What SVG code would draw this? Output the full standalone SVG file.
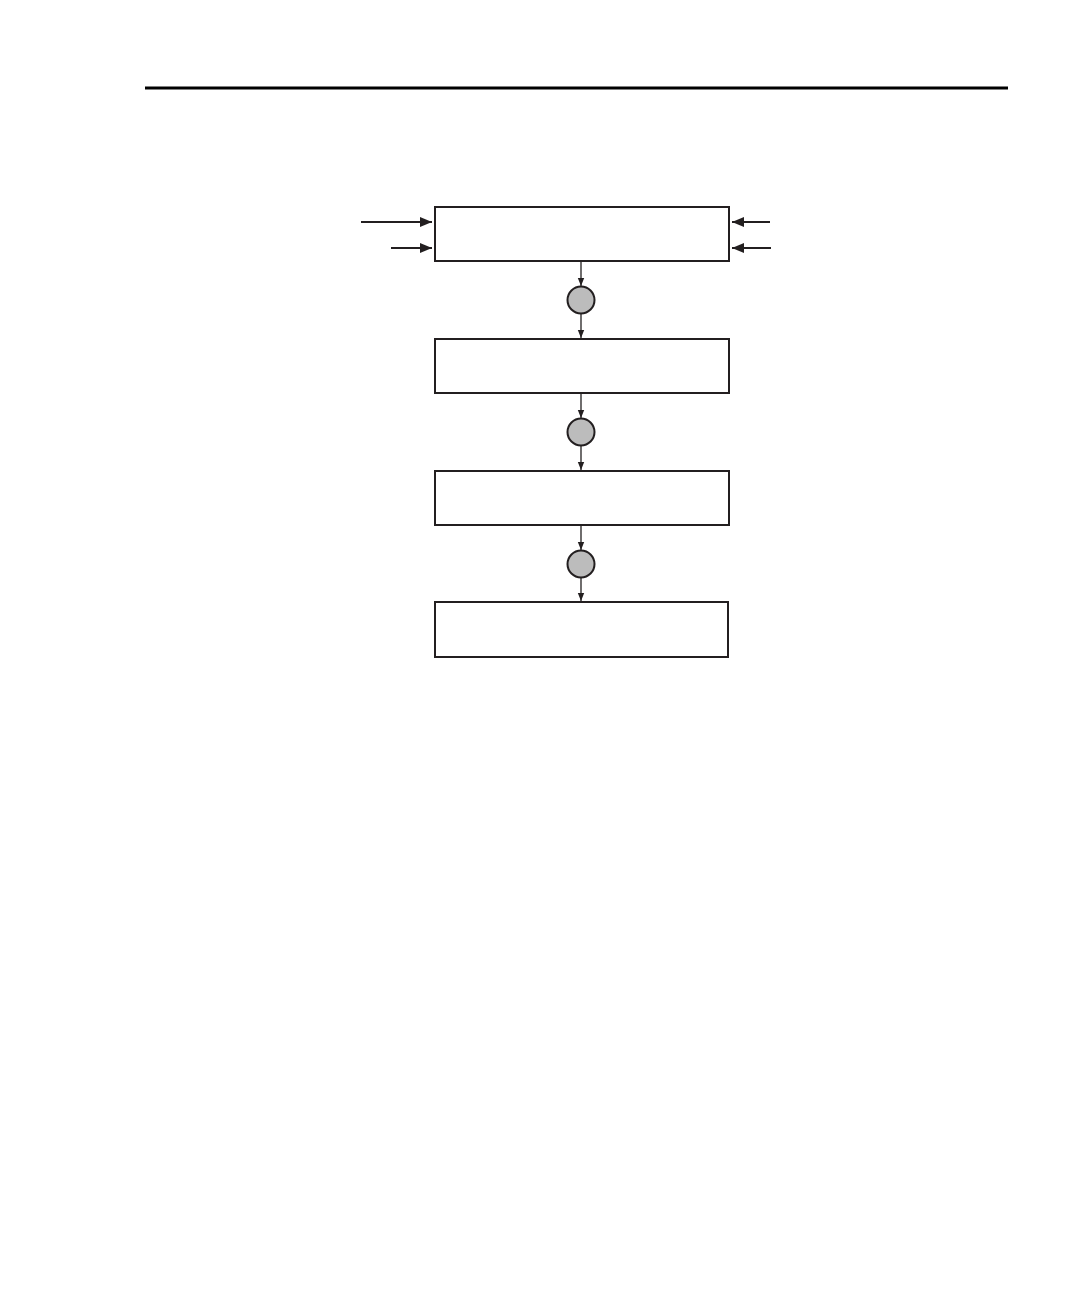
<svg xmlns="http://www.w3.org/2000/svg" width="1080" height="1296" viewBox="0 0 1080 1296">
<style>
.box{fill:#fff;stroke:#231f20;stroke-width:2}
.node{fill:#bcbcbc;stroke:#231f20;stroke-width:2}
.ln{stroke:#231f20;stroke-width:1.3;fill:none}
.lnb{stroke:#231f20;stroke-width:2;fill:none}
</style>
<defs>
<marker id="sm" markerUnits="userSpaceOnUse" markerWidth="8" markerHeight="8" viewBox="0 0 8 8" refX="8" refY="4" orient="auto"><path d="M0,0.8 L8,4 L0,7.2 Z" fill="#231f20"/></marker>
<marker id="lg" markerUnits="userSpaceOnUse" markerWidth="12" markerHeight="10" viewBox="0 0 12 10" refX="12" refY="5" orient="auto"><path d="M0,0 L12,5 L0,10 Z" fill="#231f20"/></marker>
</defs>
<rect width="1080" height="1296" fill="#fff"/>
<line x1="145" y1="88" x2="1008" y2="88" stroke="#000" stroke-width="3"/>
<g id="connectors">
<line class="lnb" x1="361" y1="222" x2="432" y2="222" marker-end="url(#lg)"/>
<line class="lnb" x1="391" y1="248" x2="432" y2="248" marker-end="url(#lg)"/>
<line class="lnb" x1="770" y1="222" x2="732" y2="222" marker-end="url(#lg)"/>
<line class="lnb" x1="771" y1="248" x2="732" y2="248" marker-end="url(#lg)"/>
<line class="ln" x1="581" y1="261" x2="581" y2="286" marker-end="url(#sm)"/>
<line class="ln" x1="581" y1="314" x2="581" y2="338" marker-end="url(#sm)"/>
<line class="ln" x1="581" y1="393" x2="581" y2="418" marker-end="url(#sm)"/>
<line class="ln" x1="581" y1="446" x2="581" y2="470" marker-end="url(#sm)"/>
<line class="ln" x1="581" y1="525" x2="581" y2="550" marker-end="url(#sm)"/>
<line class="ln" x1="581" y1="578" x2="581" y2="601" marker-end="url(#sm)"/>
</g>
<g id="box1"><rect class="box" x="435" y="207" width="294" height="54"/></g>
<g id="node1"><circle class="node" cx="581" cy="300" r="13.5"/></g>
<g id="box2"><rect class="box" x="435" y="339" width="294" height="54"/></g>
<g id="node2"><circle class="node" cx="581" cy="432" r="13.5"/></g>
<g id="box3"><rect class="box" x="435" y="471" width="294" height="54"/></g>
<g id="node3"><circle class="node" cx="581" cy="564" r="13.5"/></g>
<g id="box4"><rect class="box" x="435" y="602" width="293" height="55"/></g>
</svg>
